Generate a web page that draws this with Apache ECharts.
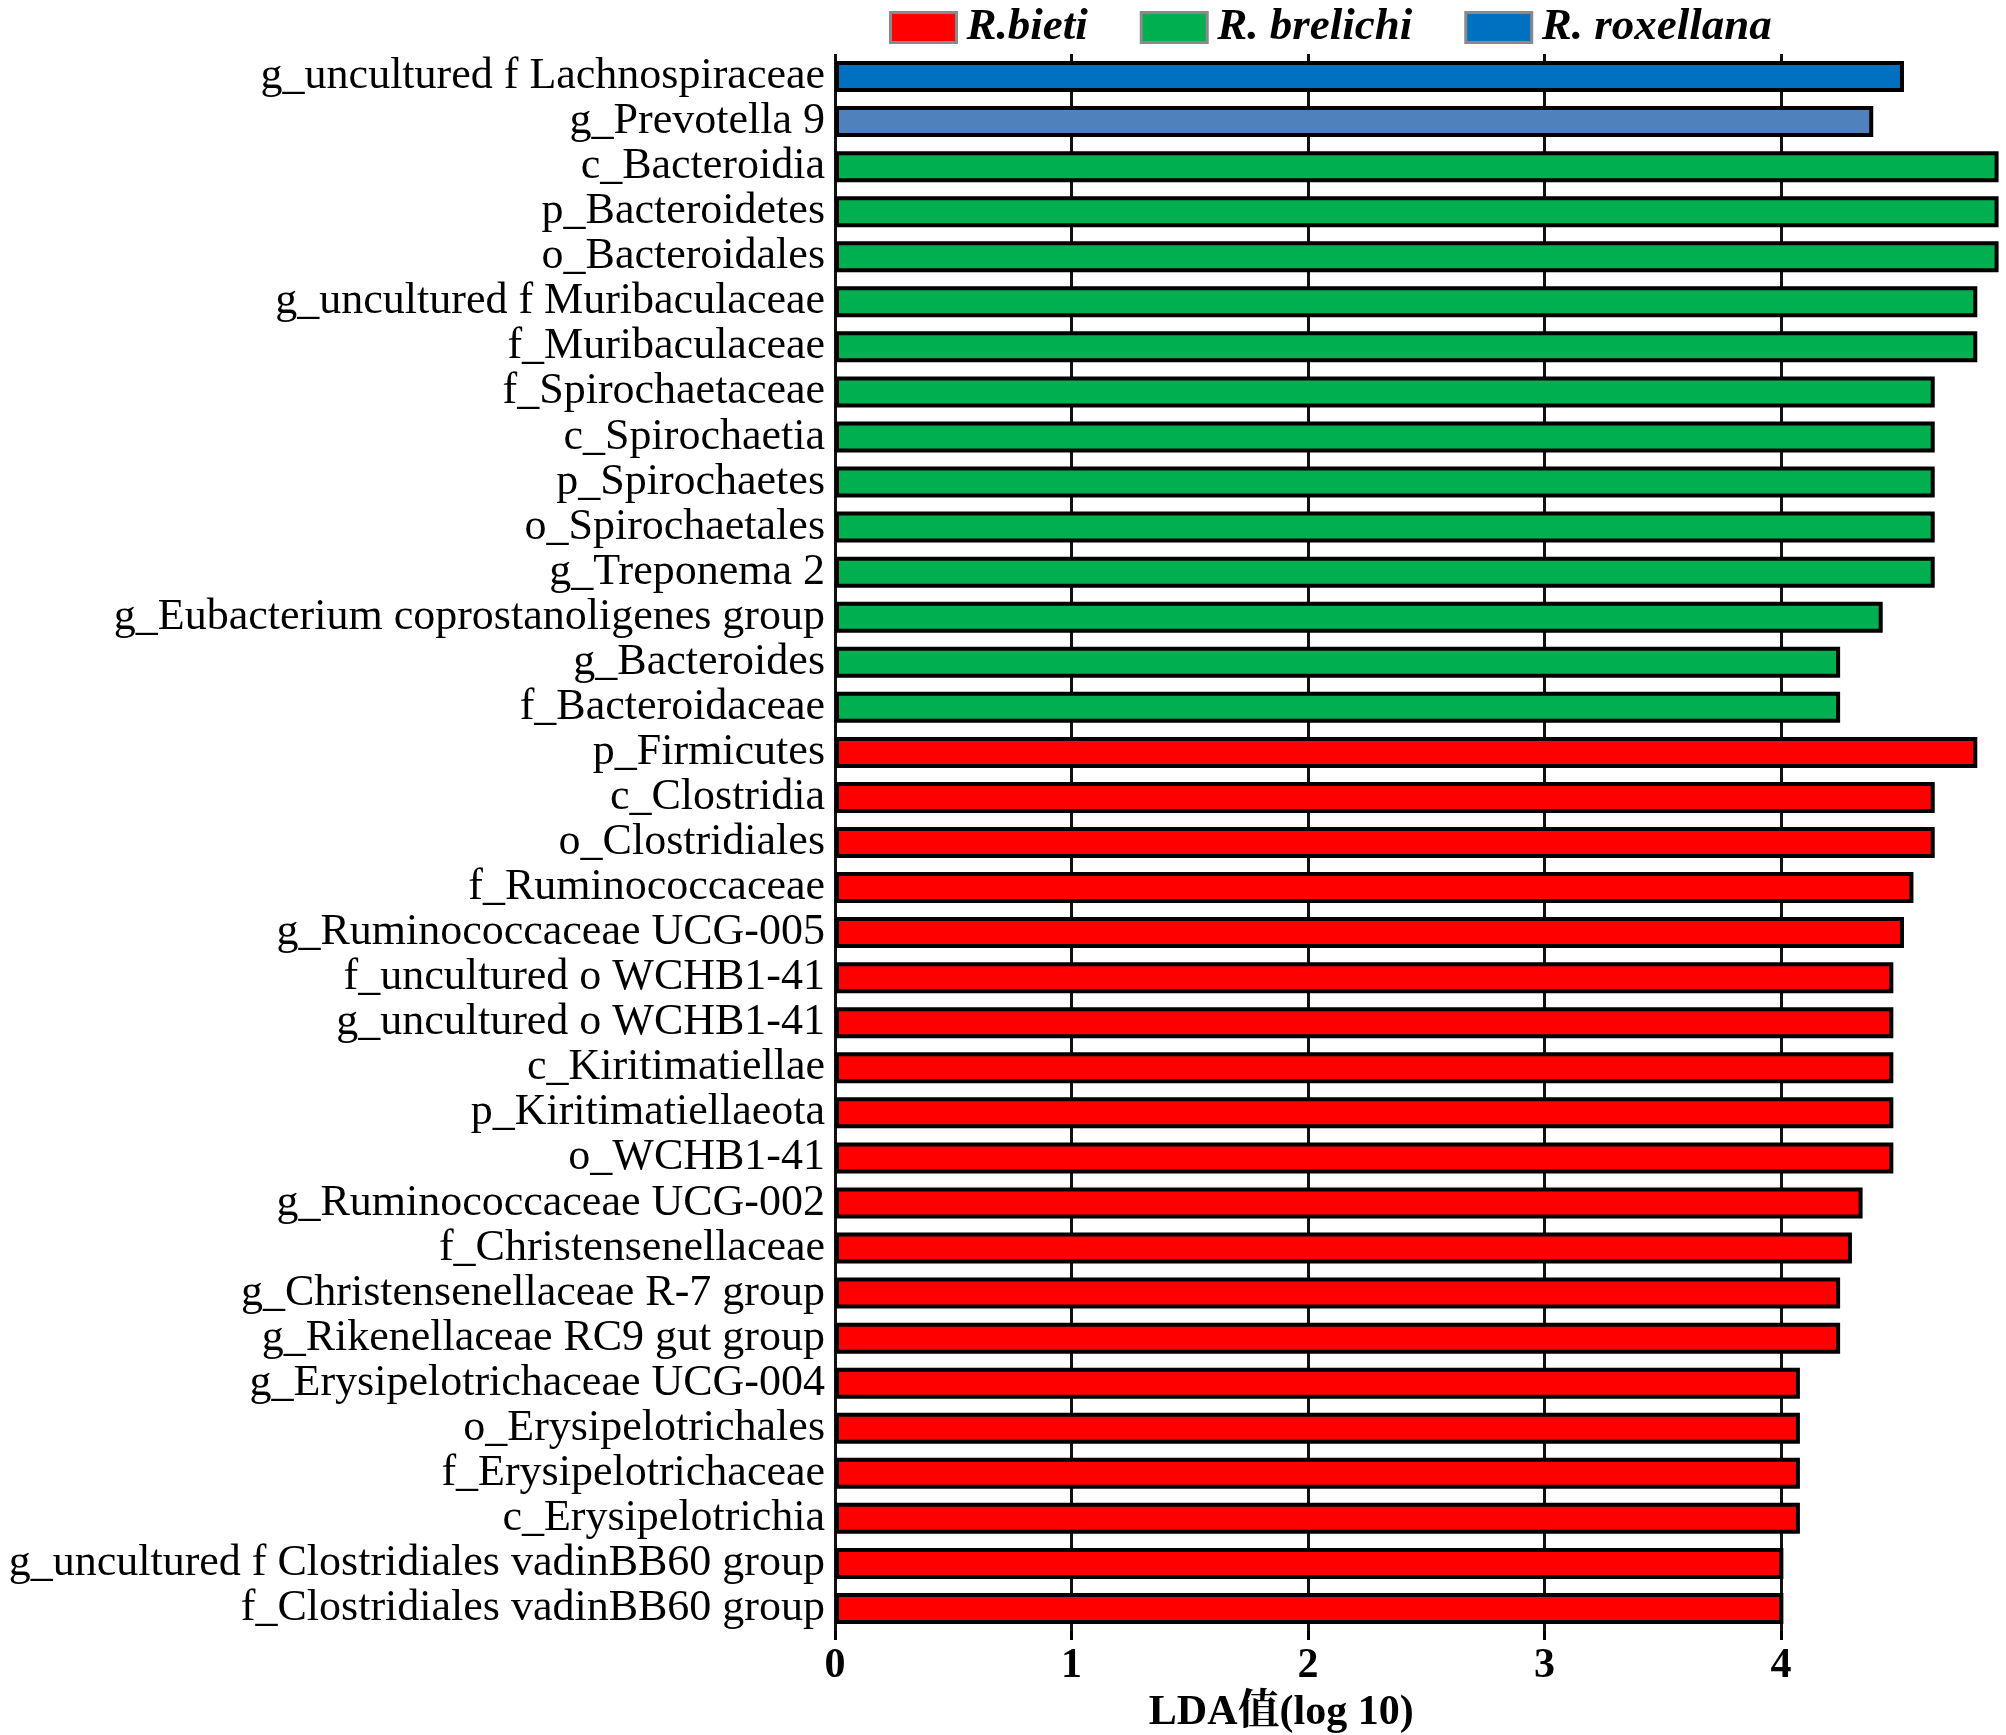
<!DOCTYPE html>
<html>
<head>
<meta charset="utf-8">
<script src="https://cdn.jsdelivr.net/npm/echarts@6/dist/echarts.min.js"></script>
<style>
html, body { margin: 0; padding: 0; background: #ffffff; }
#chart { width: 2006px; height: 1735px; }
</style>
</head>
<body>
<div id="chart"></div>
<script>
const categories = [
  'g_uncultured f Lachnospiraceae',
  'g_Prevotella 9',
  'c_Bacteroidia',
  'p_Bacteroidetes',
  'o_Bacteroidales',
  'g_uncultured f Muribaculaceae',
  'f_Muribaculaceae',
  'f_Spirochaetaceae',
  'c_Spirochaetia',
  'p_Spirochaetes',
  'o_Spirochaetales',
  'g_Treponema 2',
  'g_Eubacterium coprostanoligenes group',
  'g_Bacteroides',
  'f_Bacteroidaceae',
  'p_Firmicutes',
  'c_Clostridia',
  'o_Clostridiales',
  'f_Ruminococcaceae',
  'g_Ruminococcaceae UCG-005',
  'f_uncultured o WCHB1-41',
  'g_uncultured o WCHB1-41',
  'c_Kiritimatiellae',
  'p_Kiritimatiellaeota',
  'o_WCHB1-41',
  'g_Ruminococcaceae UCG-002',
  'f_Christensenellaceae',
  'g_Christensenellaceae R-7 group',
  'g_Rikenellaceae RC9 gut group',
  'g_Erysipelotrichaceae UCG-004',
  'o_Erysipelotrichales',
  'f_Erysipelotrichaceae',
  'c_Erysipelotrichia',
  'g_uncultured f Clostridiales vadinBB60 group',
  'f_Clostridiales vadinBB60 group'
];

const ldaValues = [
  4.52, 4.39,
  4.92, 4.92, 4.92, 4.83, 4.83, 4.65, 4.65, 4.65, 4.65, 4.65, 4.43, 4.25, 4.25,
  4.83, 4.65, 4.65, 4.56, 4.52, 4.475, 4.475, 4.475, 4.475, 4.475, 4.345, 4.30,
  4.25, 4.25, 4.08, 4.08, 4.08, 4.08, 4.01, 4.01
];

const groupOf = [
  'R. roxellana', 'R. roxellana',
  'R. brelichi', 'R. brelichi', 'R. brelichi', 'R. brelichi', 'R. brelichi',
  'R. brelichi', 'R. brelichi', 'R. brelichi', 'R. brelichi', 'R. brelichi',
  'R. brelichi', 'R. brelichi', 'R. brelichi',
  'R.bieti', 'R.bieti', 'R.bieti', 'R.bieti', 'R.bieti', 'R.bieti', 'R.bieti',
  'R.bieti', 'R.bieti', 'R.bieti', 'R.bieti', 'R.bieti', 'R.bieti', 'R.bieti',
  'R.bieti', 'R.bieti', 'R.bieti', 'R.bieti', 'R.bieti', 'R.bieti'
];

const groupNames = ['R.bieti', 'R. brelichi', 'R. roxellana'];
const xTicks = [0, 1, 2, 3, 4];

const groupColors = { 'R.bieti': '#ff0000', 'R. brelichi': '#00b050', 'R. roxellana': '#0070c0' };
const itemColorOverride = { 'g_Prevotella 9': '#4f81bd' };

const serifFont = "'Liberation Serif', 'Noto Serif CJK SC', 'Noto Sans CJK SC', serif";

const series = groupNames.map(function (g) {
  return {
    name: g,
    type: 'bar',
    stack: 'all',
    barWidth: 31,
    itemStyle: { color: groupColors[g], borderColor: '#000000', borderWidth: 4 },
    data: categories.map(function (c, i) {
      if (groupOf[i] !== g) return '-';
      if (itemColorOverride[c]) return { value: ldaValues[i], itemStyle: { color: itemColorOverride[c] } };
      return ldaValues[i];
    })
  };
});

const chart = echarts.init(document.getElementById('chart'), null, { renderer: 'canvas' });
chart.setOption({
  backgroundColor: '#ffffff',
  animation: false,
  legend: {
    data: groupNames,
    left: 884,
    top: 0,
    itemWidth: 66,
    itemHeight: 30,
    itemGap: 52,
    icon: 'rect',
    itemStyle: { borderColor: '#8a8a8a', borderWidth: 3 },
    textStyle: { fontFamily: serifFont, fontSize: 45, fontStyle: 'italic', fontWeight: 'bold', color: '#000000', padding: [0, 0, 0, 5] }
  },
  grid: { left: 835, top: 54, width: 1182.5, height: 1577, containLabel: false, outerBoundsMode: 'none' },
  xAxis: {
    type: 'value',
    min: 0,
    max: 5,
    interval: 1,
    name: 'LDA值(log 10)',
    nameLocation: 'middle',
    nameGap: 54,
    nameTextStyle: { fontFamily: serifFont, fontSize: 42, fontWeight: 'bold', color: '#000000', padding: [0, 290, 0, 0] },
    axisLine: { show: false },
    axisTick: { show: true, length: 9, lineStyle: { color: '#000000', width: 3 } },
    axisLabel: {
      margin: 14,
      showMaxLabel: false,
      fontFamily: serifFont, fontSize: 42, fontWeight: 'bold', color: '#000000',
      formatter: function (v) { return xTicks.indexOf(v) >= 0 ? String(v) : ''; }
    },
    splitLine: { show: true, showMaxLine: false, lineStyle: { color: '#111111', width: 3 } }
  },
  yAxis: {
    type: 'category',
    data: categories,
    inverse: true,
    axisLine: { show: false },
    axisTick: { show: false },
    axisLabel: { interval: 0, margin: 10, fontFamily: serifFont, fontSize: 44, color: '#000000' },
    splitLine: { show: false }
  },
  series: series
});
</script>
</body>
</html>
